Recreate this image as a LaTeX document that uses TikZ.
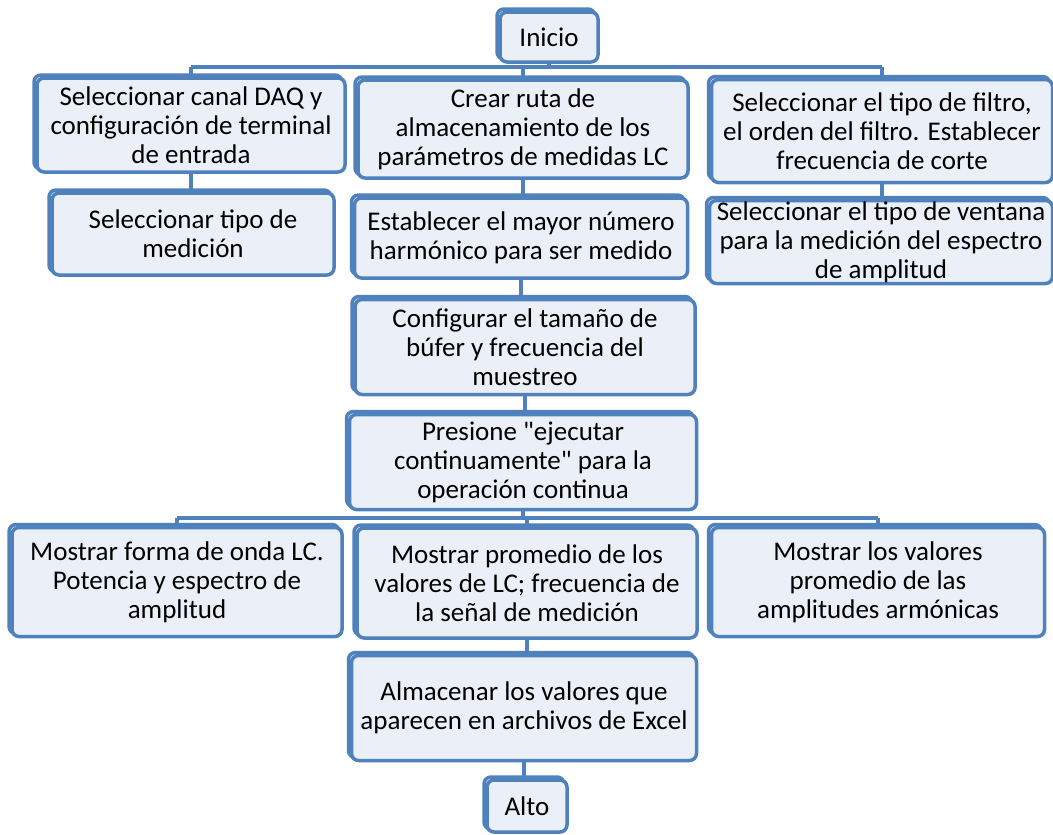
\documentclass[tikz,border=0pt]{standalone}
\usepackage{fontspec}
\setmainfont{Carlito}[Ligatures=TeXOff]
\definecolor{boxblue}{HTML}{4F81BD}
\definecolor{boxfill}{HTML}{EBF0F8}
\begin{document}
\begin{tikzpicture}[x=1pt, y=-1pt,
    stepbox/.style={draw=boxblue, fill=boxfill, line width=3.5pt, rounded corners=7pt, align=center,
      inner sep=0pt, font=\fontsize{27}{29}\selectfont,
      preaction={draw=boxblue, line width=3.5pt, transform canvas={shift={(-3pt,3pt)}}}},
    link/.style={draw=boxblue, line width=3.5pt}]
  \useasboundingbox (0,0) rectangle (1053,835);
  % nodes, top to bottom
  \node[stepbox, minimum width=98, minimum height=50] (inicio) at (549,37) {Inicio};
  \node[stepbox, minimum width=308, minimum height=94] (canal) at (191,125) {Seleccionar canal DAQ y\\configuración de terminal\\de entrada};
  \node[stepbox, minimum width=330, minimum height=98] (ruta) at (523,129) {Crear ruta de\\almacenamiento de los\\parámetros de medidas LC};
  \node[stepbox, minimum width=341, minimum height=103] (filtro) at (882,131) {Seleccionar el tipo de filtro,\\el orden del filtro. Establecer\\frecuencia de corte};
  \node[stepbox, minimum width=282, minimum height=82] (tipo) at (193,234) {Seleccionar tipo de\\medición};
  \node[stepbox, minimum width=333, minimum height=80] (armonico) at (521,238) {Establecer el mayor número\\harmónico para ser medido};
  \node[stepbox, minimum width=343, minimum height=83] (ventana) at (881,242) {Seleccionar el tipo de ventana\\para la medición del espectro\\de amplitud};
  \node[stepbox, minimum width=340, minimum height=95] (bufer) at (525,347) {Configurar el tamaño de\\búfer y frecuencia del\\muestreo};
  \node[stepbox, minimum width=347, minimum height=95] (ejecutar) at (523,462) {Presione "ejecutar\\continuamente" para la\\operación continua};
  \node[stepbox, minimum width=330, minimum height=109] (onda) at (177,582) {Mostrar forma de onda LC.\\Potencia y espectro de\\amplitud};
  \node[stepbox, minimum width=340, minimum height=110] (promedio) at (527,583) {Mostrar promedio de los\\valores de LC; frecuencia de\\la señal de medición};
  \node[stepbox, minimum width=333, minimum height=109] (armonicas) at (878,582) {Mostrar los valores\\promedio de las\\amplitudes armónicas};
  \node[stepbox, minimum width=345, minimum height=105] (excel) at (524,708) {Almacenar los valores que\\aparecen en archivos de Excel};
  \node[stepbox, minimum width=80, minimum height=52] (alto) at (527,806) {Alto};
  % buses
  \coordinate (bus1) at (0,67);
  \coordinate (bus2) at (0,518);
  \draw[link] (inicio.south) -- (inicio.south |- bus1);
  \draw[link] (canal.north |- bus1) -- (filtro.north |- bus1);
  \foreach \n in {canal, ruta, filtro} \draw[link] (\n.north |- bus1) -- (\n.north);
  \draw[link] (canal.south) -- (canal.south |- tipo.north);
  \draw[link] (ruta.south) -- (ruta.south |- armonico.north);
  \draw[link] (filtro.south) -- (filtro.south |- ventana.north);
  \draw[link] (armonico.south) -- (armonico.south |- bufer.north);
  \draw[link] (bufer.south) -- (bufer.south |- ejecutar.north);
  \draw[link] (ejecutar.south) -- (ejecutar.south |- bus2);
  \draw[link] (onda.north |- bus2) -- (armonicas.north |- bus2);
  \foreach \n in {onda, promedio, armonicas} \draw[link] (\n.north |- bus2) -- (\n.north);
  \draw[link] (promedio.south) -- (promedio.south |- excel.north);
  \draw[link] (excel.south) -- (excel.south |- alto.north);
\end{tikzpicture}
\end{document}
